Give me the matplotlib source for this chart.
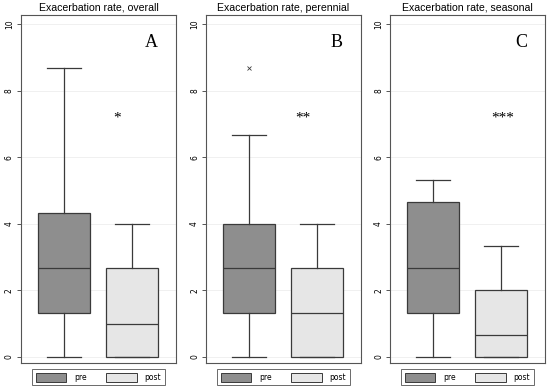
import matplotlib
matplotlib.use("Agg")
from matplotlib import pyplot as plt
from matplotlib.patches import Patch

titles = ["Exacerbation rate, overall", "Exacerbation rate, perennial", "Exacerbation rate, seasonal"]
letters = ["A", "B", "C"]
stars = ["*", "**", "***"]
groups = ["pre", "post"]

# whislo, q1, median, q3, whishi
pre_stats = [[0, 1.33, 2.67, 4.33, 8.67],
             [0, 1.33, 2.67, 4.0, 6.67],
             [0, 1.33, 2.67, 4.67, 5.33]]
post_stats = [[0, 0, 1.0, 2.67, 4.0],
              [0, 0, 1.33, 2.67, 4.0],
              [0, 0, 0.67, 2.0, 3.33]]
pre_outliers = [[], [8.67], []]
star_x = [1.78, 1.79, 2.03]
yticks = [0, 2, 4, 6, 8, 10]

colors = ["#8e8e8e", "#e6e6e6"]
edge = "#3a3a3a"


def make_stats(vals, fliers):
    lo, q1, med, q3, hi = vals
    return {"whislo": lo, "q1": q1, "med": med, "q3": q3, "whishi": hi, "fliers": fliers}


def plot_panel(ax, i):
    stats = [make_stats(pre_stats[i], pre_outliers[i]), make_stats(post_stats[i], [])]
    bp = ax.bxp(stats, positions=[1, 2], widths=0.765, patch_artist=True, showfliers=True,
                boxprops=dict(edgecolor=edge, linewidth=0.9),
                medianprops=dict(color=edge, linewidth=0.9),
                whiskerprops=dict(color=edge, linewidth=0.9),
                capprops=dict(color=edge, linewidth=0.9),
                capwidths=0.5,
                flierprops=dict(marker="x", markersize=2.5, markeredgecolor=edge, markeredgewidth=0.6))
    for patch, c in zip(bp["boxes"], colors):
        patch.set_facecolor(c)
    ax.set_xlim(0.368, 2.647)
    ax.set_ylim(-0.18, 10.27)
    ax.set_yticks(yticks)
    ax.set_yticklabels([str(t) for t in yticks], rotation=90, va="center", fontsize=5.5)
    ax.set_xticks([])
    ax.tick_params(axis="y", length=3, width=0.6, color=edge, pad=2)
    ax.yaxis.grid(True, color="#eeeeee", linewidth=0.6)
    ax.set_axisbelow(True)
    for s in ax.spines.values():
        s.set_color("#555555")
        s.set_linewidth(0.8)
    ax.set_title(titles[i], fontsize=7.6, family="Liberation Sans", pad=3)
    ax.text(2.29, 9.43, letters[i], fontsize=13, family="Liberation Serif", ha="center", va="center")
    ax.text(star_x[i], 7.08, stars[i], fontsize=11, family="Liberation Serif",
            ha="center", va="baseline")
    handles = [Patch(facecolor=colors[0], edgecolor=edge, linewidth=0.7),
               Patch(facecolor=colors[1], edgecolor=edge, linewidth=0.7)]
    leg = ax.legend(handles, groups, ncol=2, loc="upper center", bbox_to_anchor=(0.5, -0.012),
                    fontsize=5.5, frameon=True, fancybox=False, handlelength=4.0, handleheight=1.3,
                    columnspacing=2.6, handletextpad=1.0, borderpad=0.45, borderaxespad=0.3)
    leg.get_frame().set_edgecolor("#444444")
    leg.get_frame().set_linewidth(0.7)


fig = plt.figure(figsize=(5.5, 3.89), dpi=100)
lefts = [0.038, 0.3745, 0.709]
for i in range(3):
    ax = fig.add_axes([lefts[i], 0.0668, 0.282, 0.8946])
    plot_panel(ax, i)

plt.savefig("out.png", dpi=100)
